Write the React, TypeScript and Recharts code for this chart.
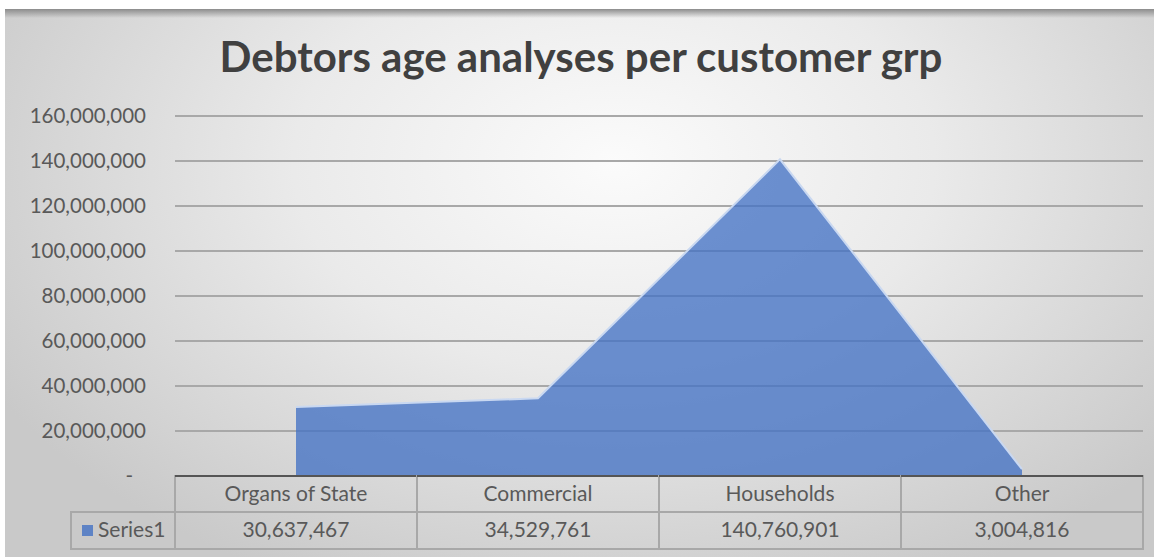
import { AreaChart, Area, XAxis, YAxis, CartesianGrid } from 'recharts';

const categories = ['Organs of State', 'Commercial', 'Households', 'Other'];
const series1 = [30637467, 34529761, 140760901, 3004816];
const yTicks = [0, 20000000, 40000000, 60000000, 80000000, 100000000, 120000000, 140000000, 160000000];

const W = 1159;
const H = 557;
const Y_AXIS_W = 175;
const RIGHT = 16;
const X_AXIS_H = 81;
const PLOT_W = W - Y_AXIS_W - RIGHT;
const BAND = PLOT_W / categories.length;
const TABLE_TOP = H - X_AXIS_H;
const ROW1 = 36;
const ROW2 = 37;

const FONT = 'Lato, "Open Sans", sans-serif';
const TEXT = '#595959';
const BORDER = '#a8a8a8';
const BLUE = '#4472C4';

const data = categories.map((name, i) => ({ name, Series1: series1[i] }));

const fmt = (v: number) => (v === 0 ? '-' : v.toLocaleString('en-US'));

// y labels sit right-aligned a bit left of the plot
function YTick(props: any) {
  const { x, y, payload } = props;
  const zero = payload.value === 0;
  return (
    <text x={zero ? x - 34 : x - 21} y={y} dy="0.355em" textAnchor="end" fill={TEXT} fontSize={20.5} fontFamily={FONT}>
      {fmt(payload.value)}
    </text>
  );
}

// each x tick draws its own column of the data table
function TableTick(props: any) {
  const { x, index, payload } = props;
  const left = x - BAND / 2;
  const r1 = TABLE_TOP;
  const r2 = TABLE_TOP + ROW1;
  return (
    <g>
      <rect x={left} y={r1} width={BAND} height={ROW1} fill="none" stroke={BORDER} strokeWidth={2} />
      <rect x={left} y={r2} width={BAND} height={ROW2} fill="none" stroke={BORDER} strokeWidth={2} />
      <line x1={left} x2={left + BAND} y1={r1} y2={r1} stroke="#555555" strokeWidth={2} />
      <text x={x} y={r1 + 25} textAnchor="middle" fill={TEXT} fontSize={21} fontFamily={FONT}>
        {payload.value}
      </text>
      <text x={x} y={r2 + 25} textAnchor="middle" fill={TEXT} fontSize={21} fontFamily={FONT}>
        {fmt(series1[index])}
      </text>
      {index === 0 && (
        <g>
          <rect x={71} y={r2} width={left - 71} height={ROW2} fill="none" stroke={BORDER} strokeWidth={2} />
          <rect x={82} y={r2 + 13} width={11} height={11} fill={BLUE} fillOpacity={0.8} />
          <text x={98} y={r2 + 25} fill={TEXT} fontSize={21} fontFamily={FONT}>
            Series1
          </text>
        </g>
      )}
    </g>
  );
}

export default function App() {
  return (
    <div style={{ position: 'absolute', left: 0, top: 0, width: W, height: H, background: '#ffffff', overflow: 'hidden' }}>
      <div
        style={{
          position: 'absolute',
          left: 5,
          top: 9,
          width: 1149,
          height: 548,
          background: 'radial-gradient(ellipse 62% 85% at 53% 28%, #fbfbfb 0%, #eaeaea 45%, #c9c9c9 100%)',
        }}
      >
        <div style={{ position: 'absolute', left: 0, top: 0, width: '100%', height: 9, background: 'linear-gradient(#8c8c8c, rgba(210,210,210,0))' }} />
      </div>
      <svg width={W} height={100} style={{ position: 'absolute', left: 0, top: 0 }}>
        <text x={581} y={72} textAnchor="middle" fill="#404040" fontSize={42} fontWeight={700} fontFamily={FONT}>
          Debtors age analyses per customer grp
        </text>
      </svg>
      <div style={{ position: 'absolute', left: 0, top: 0 }}>
        <AreaChart width={W} height={H} data={data} margin={{ top: 116, right: RIGHT, bottom: 0, left: 0 }}>
          <CartesianGrid vertical={false} stroke={BORDER} strokeWidth={2} />
          <YAxis
            width={Y_AXIS_W}
            domain={[0, 160000000]}
            ticks={yTicks}
            axisLine={false}
            tickLine={false}
            tick={<YTick />}
            interval={0}
          />
          <XAxis
            dataKey="name"
            height={X_AXIS_H}
            padding={{ left: BAND / 2, right: BAND / 2 }}
            axisLine={false}
            tickLine={false}
            interval={0}
            tick={<TableTick />}
          />
          <Area
            type="linear"
            dataKey="Series1"
            fill={BLUE}
            fillOpacity={0.78}
            stroke="#c9d8f1"
            strokeWidth={2}
            dot={false}
            activeDot={false}
            isAnimationActive={false}
          />
        </AreaChart>
      </div>
    </div>
  );
}
